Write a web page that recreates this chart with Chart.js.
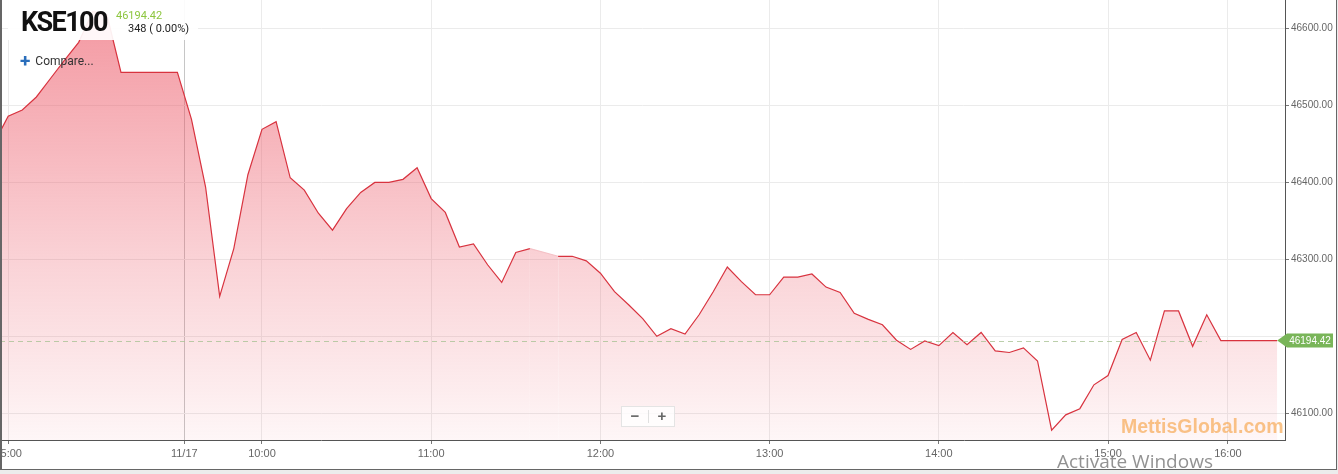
<!DOCTYPE html>
<html>
<head>
<meta charset="utf-8">
<title>KSE100</title>
<script src="https://cdn.jsdelivr.net/npm/chart.js@4.4.0/dist/chart.umd.min.js"></script>
<style>
  html, body { margin: 0; padding: 0; background: #ececec; }
  #panel { position: absolute; left: 0; top: 0; width: 1337px; height: 470px; background: #fff; overflow: hidden; }
  #chart { position: absolute; left: -20px; top: -10px; }
  #frame { position: absolute; left: 0; top: -2px; width: 1334px; height: 471px; border-left: 2px solid #666; border-right: 1px solid #666; border-bottom: 1px solid #666; pointer-events: none; }
  #head { position: absolute; left: 8px; top: 0; width: 190px; height: 40px; background: rgba(255,255,255,0.92); }
  #name { position: absolute; left: 13px; top: 9px; font: bold 27px/27px Roboto, sans-serif; letter-spacing: -1.6px; color: #111; }
  #last { position: absolute; left: 108px; top: 10px; font: 11px/11px Roboto, sans-serif; color: #8dc63f; }
  #chg { position: absolute; left: 120px; top: 23px; font: 11px/11px Roboto, sans-serif; color: #222; }
  #compare { position: absolute; left: 20px; top: 54px; font: 12px/14px Roboto, sans-serif; color: #333; }
  #compare b { color: #2a6ebb; font-size: 19px; font-weight: bold; margin-right: 5px; vertical-align: -2px; }
  #zoomctl { position: absolute; left: 621px; top: 406px; width: 52px; height: 19px; border: 1px solid #e4e4e4; background: rgba(255,255,255,0.8); font: bold 15px/18px "Liberation Sans", sans-serif; color: #666; }
  #zoomctl span { position: absolute; top: 0; width: 26px; text-align: center; }
  #zoomctl i { position: absolute; left: 26px; top: 3px; width: 1px; height: 13px; background: #e0e0e0; }
  #brand { position: absolute; left: 1121px; top: 415px; font: bold 19.5px/22px "Liberation Sans", sans-serif; color: rgba(247,170,85,0.7); }
  #win { position: absolute; left: 1057px; top: 449px; font: 19px/24px "Open Sans", sans-serif; color: rgba(110,110,110,0.75); }
</style>
</head>
<body>
<div id="panel">
  <canvas id="chart" width="1356" height="479" style="width:1356px;height:479px"></canvas>
  <div id="head">
    <div id="name">KSE100</div>
    <div id="last">46194.42</div>
    <div id="chg">348 ( 0.00%)</div>
  </div>
  <div id="compare"><b>+</b>Compare...</div>
  <div id="zoomctl"><span style="left:0">&minus;</span><i></i><span style="left:27px">+</span></div>
  <div id="brand">MettisGlobal.com</div>
  <div id="frame"></div>
</div>
<div id="win">Activate Windows</div>
<script>
// valores de 5 em 5 minutos (null = ponto em falta)
const closes = [
  46451, 46486, 46494, 46511, 46535, 46559, 46582, 46622, 46618, 46543,
  46543, 46543, 46543, 46543, 46482, 46394, 46252, 46314, 46410, 46469,
  46479, 46406, 46390, 46360, 46338, 46366, 46387, 46400, 46400, 46404,
  46419, 46379, 46361, 46316, 46320, 46293, 46270, 46309, 46314, null,
  46304, 46304, 46298, 46282, 46258, 46241, 46223, 46200, 46210, 46203,
  46228, 46258, 46290, 46271, 46254, 46254, 46277, 46277, 46281, 46264,
  46257, 46230, 46222, 46215, 46195, 46183, 46194, 46188, 46205, 46189,
  46205, 46181, 46179, 46185, 46168, 46078, 46098, 46106, 46137, 46149,
  46196, 46205, 46169, 46233, 46233, 46187, 46228, 46194.42, 46194.42, 46194.42,
  46194.42, 46194.42
];
const lastPrice = 46194.42;

const xTickPos = [1, 13.49, 19, 31, 43, 55, 67, 79, 87.5];
const xTickLabels = ['15:00', '11/17', '10:00', '11:00', '12:00', '13:00', '14:00', '15:00', '16:00'];
const yTicks = [46100, 46200, 46300, 46400, 46500, 46600];

const lastPricePlugin = {
  id: 'lastPrice',
  afterDatasetsDraw(chart) {
    const ctx = chart.ctx;
    const area = chart.chartArea;
    const y = chart.scales.y.getPixelForValue(lastPrice);
    const pts = chart.getDatasetMeta(0).data;
    const xEnd = pts[pts.length - 1].x;
    ctx.save();
    ctx.strokeStyle = 'rgba(170,195,150,0.8)';
    ctx.lineWidth = 1;
    ctx.setLineDash([5, 4]);
    ctx.beginPath();
    ctx.moveTo(area.left, Math.round(y) + 0.5);
    ctx.lineTo(pts[86].x, Math.round(y) + 0.5);
    ctx.stroke();
    ctx.restore();

    // etiqueta verde
    ctx.save();
    ctx.fillStyle = '#79b559';
    ctx.beginPath();
    ctx.moveTo(xEnd, y);
    ctx.lineTo(area.right + 2, y - 7);
    ctx.lineTo(area.right + 48, y - 7);
    ctx.lineTo(area.right + 48, y + 7);
    ctx.lineTo(area.right + 2, y + 7);
    ctx.closePath();
    ctx.fill();
    ctx.fillStyle = '#fff';
    ctx.font = '10px "Liberation Sans", sans-serif';
    ctx.textAlign = 'center';
    ctx.textBaseline = 'middle';
    ctx.fillText(lastPrice.toFixed(2), area.right + 25, y + 0.5);
    ctx.restore();
  }
};

const ctx = document.getElementById('chart').getContext('2d');
new Chart(ctx, {
  type: 'line',
  data: {
    datasets: [{
      label: 'KSE100',
      data: closes.map((v, i) => ({ x: i, y: v })),
      borderColor: '#d8333f',
      borderWidth: 1.2,
      pointRadius: 0,
      tension: 0,
      spanGaps: true,
      fill: 'start',
      backgroundColor: (c) => {
        const a = c.chart.chartArea;
        if (!a) return 'rgba(236,85,100,0.3)';
        const g = c.chart.ctx.createLinearGradient(0, a.top, 0, a.bottom);
        g.addColorStop(0, 'rgba(236,85,100,0.62)');
        g.addColorStop(0.6, 'rgba(236,85,100,0.26)');
        g.addColorStop(1, 'rgba(236,85,100,0.05)');
        return g;
      },
      segment: {
        // trecho sem dados fica mais claro
        borderColor: (s) => (s.p0.skip || s.p1.skip ? '#f5c2c7' : undefined)
      }
    }]
  },
  plugins: [lastPricePlugin],
  options: {
    responsive: false,
    animation: false,
    layout: { padding: { left: 20, top: 10, right: 0, bottom: 0 } },
    plugins: { legend: { display: false }, tooltip: { enabled: false } },
    scales: {
      x: {
        type: 'linear',
        min: 0.42,
        max: 91.55,
        afterBuildTicks: (s) => { s.ticks = xTickPos.map(v => ({ value: v })); },
        afterFit: (s) => { s.height = 29; },
        ticks: {
          autoSkip: false,
          maxRotation: 0,
          padding: 3,
          color: '#666',
          font: { family: '"Liberation Sans", sans-serif', size: 11 },
          callback: (v, i) => xTickLabels[i]
        },
        grid: {
          color: (c) => (c.tick && c.tick.value === 13.49 ? '#c6c6c6' : '#ebebeb'),
          tickColor: '#777',
          tickLength: 4
        },
        border: { color: '#555', width: 1 }
      },
      y: {
        position: 'right',
        min: 46065.3,
        max: 46637,
        afterBuildTicks: (s) => { s.ticks = yTicks.map(v => ({ value: v })); },
        afterFit: (s) => { s.width = 51; },
        ticks: {
          padding: 2,
          color: '#666',
          font: { family: '"Liberation Sans", sans-serif', size: 10 },
          // o rótulo que fica por baixo da etiqueta do último preço não aparece
          callback: (v) => (Math.abs(v - lastPrice) < 15 ? '' : Number(v).toFixed(2))
        },
        grid: { color: '#ebebeb', tickColor: '#777', tickLength: 4 },
        border: { color: '#555', width: 1 }
      }
    }
  }
});
</script>
</body>
</html>
